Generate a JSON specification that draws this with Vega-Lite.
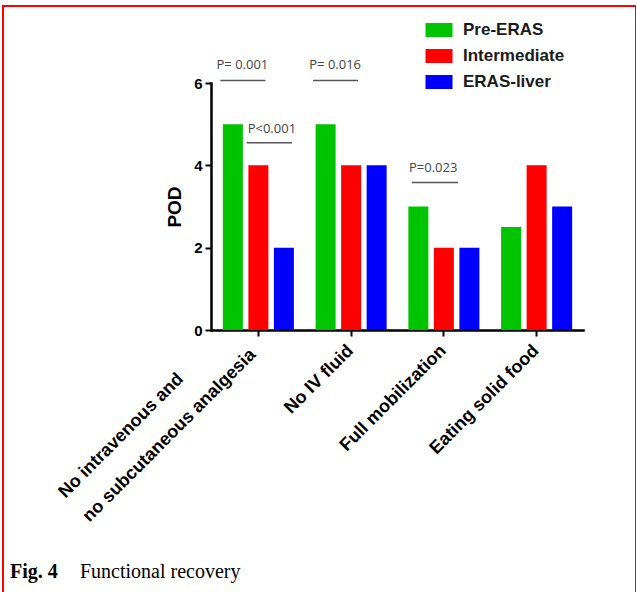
{
  "$schema": "https://vega.github.io/schema/vega-lite/v6.json",
  "width": 633,
  "height": 600,
  "autosize": {"type": "none"},
  "padding": {"left": 3, "top": 6, "right": 0, "bottom": 0},
  "background": "white",
  "config": {"view": {"stroke": "#ff0000", "strokeWidth": 2}, "font": "Liberation Sans"},
  "datasets": {
    "bars": [
      {"task": "No intravenous and no subcutaneous analgesia", "group": "Pre-ERAS", "days": 5},
      {"task": "No intravenous and no subcutaneous analgesia", "group": "Intermediate", "days": 4},
      {"task": "No intravenous and no subcutaneous analgesia", "group": "ERAS-liver", "days": 2},
      {"task": "No IV fluid", "group": "Pre-ERAS", "days": 5},
      {"task": "No IV fluid", "group": "Intermediate", "days": 4},
      {"task": "No IV fluid", "group": "ERAS-liver", "days": 4},
      {"task": "Full mobilization", "group": "Pre-ERAS", "days": 3},
      {"task": "Full mobilization", "group": "Intermediate", "days": 2},
      {"task": "Full mobilization", "group": "ERAS-liver", "days": 2},
      {"task": "Eating solid food", "group": "Pre-ERAS", "days": 2.5},
      {"task": "Eating solid food", "group": "Intermediate", "days": 4},
      {"task": "Eating solid food", "group": "ERAS-liver", "days": 3}
    ],
    "ann": [
      {"id": "a", "task": "No intravenous and no subcutaneous analgesia", "y": 6.06, "ty": 6.33, "label": "P= 0.001"},
      {"id": "b", "task": "No intravenous and no subcutaneous analgesia", "y": 4.55, "ty": 4.79, "label": "P<0.001"},
      {"id": "c", "task": "No IV fluid", "y": 6.06, "ty": 6.33, "label": "P= 0.016"},
      {"id": "d", "task": "Full mobilization", "y": 3.58, "ty": 3.85, "label": "P=0.023"}
    ],
    "caption": [
      {"part": "bold", "text": "Fig. 4"},
      {"part": "plain", "text": "Functional recovery"}
    ]
  },
  "layer": [
    {
      "data": {"name": "bars"},
      "mark": {"type": "bar"},
      "encoding": {
        "x": {
          "field": "task", "type": "nominal", "sort": null,
          "scale": {
            "domain": ["No intravenous and no subcutaneous analgesia", "No IV fluid", "Full mobilization", "Eating solid food"],
            "range": [209, 580], "paddingInner": 0.234, "paddingOuter": 0.117
          },
          "axis": {
            "title": null, "offset": -276, "grid": false,
            "domainColor": "black", "domainWidth": 2.5, "domainCap": "square",
            "tickColor": "black", "tickWidth": 2, "tickSize": 6,
            "labelAngle": -45, "labelBaseline": "bottom",
            "labelAlign": {"condition": {"test": "datum.value == 'No intravenous and no subcutaneous analgesia'", "value": "left"}, "value": "right"},
            "labelFont": "Liberation Sans", "labelFontSize": 18, "labelFontWeight": "bold", "labelColor": "black",
            "labelPadding": {"condition": {"test": "datum.value == 'No intravenous and no subcutaneous analgesia'", "value": 165}, "value": 18},
            "labelOffset": {"condition": {"test": "datum.value == 'No intravenous and no subcutaneous analgesia'", "value": -190}, "value": 6},
            "labelLineHeight": 34, "labelLimit": 500,
            "labelExpr": "datum.value == 'No intravenous and no subcutaneous analgesia' ? ['No intravenous and', 'no subcutaneous analgesia'] : datum.value"
          }
        },
        "xOffset": {
          "field": "group", "type": "nominal",
          "scale": {"domain": ["Pre-ERAS", "Intermediate", "ERAS-liver"], "paddingInner": 0.216, "paddingOuter": 0}
        },
        "y": {
          "field": "days", "type": "quantitative",
          "scale": {"domain": [0, 6], "range": [324, 77], "nice": false, "zero": true},
          "axis": {
            "title": "POD", "values": [0, 2, 4, 6], "format": "d", "grid": false, "offset": -208,
            "domainColor": "black", "domainWidth": 2.5, "domainCap": "square",
            "tickColor": "black", "tickWidth": 2, "tickSize": 6,
            "labelFont": "Liberation Sans", "labelFontSize": 15, "labelFontWeight": "bold", "labelColor": "black", "labelPadding": 3,
            "titleFont": "Liberation Sans", "titleFontSize": 19, "titleFontWeight": "bold", "titleColor": "black",
            "titleX": -37, "titleBaseline": "middle"
          }
        },
        "color": {
          "field": "group", "type": "nominal",
          "scale": {"domain": ["Pre-ERAS", "Intermediate", "ERAS-liver"], "range": ["#00c400", "#ff0000", "#0000ff"]},
          "legend": {
            "title": null, "orient": "none", "legendX": 427.5, "legendY": 15.5, "padding": 0,
            "symbolType": "M-1.93,-1H1.93V1H-1.93Z", "symbolSize": 196, "symbolStrokeWidth": 0, "symbolOpacity": 1,
            "labelFont": "Liberation Sans", "labelFontSize": 17, "labelFontWeight": "bold", "labelColor": "#1a1a1a",
            "labelOffset": 15.5, "rowPadding": 8
          }
        }
      }
    },
    {
      "data": {"name": "ann"},
      "transform": [{"filter": "datum.id == 'a' || datum.id == 'c'"}],
      "mark": {"type": "rule", "color": "#555555", "strokeWidth": 1.5},
      "encoding": {
        "x": {"field": "task", "type": "nominal", "bandPosition": -0.035},
        "x2": {"field": "task", "bandPosition": 0.6},
        "y": {"field": "y", "type": "quantitative"}
      }
    },
    {
      "data": {"name": "ann"},
      "transform": [{"filter": "datum.id == 'b'"}],
      "mark": {"type": "rule", "color": "#555555", "strokeWidth": 1.5},
      "encoding": {
        "x": {"field": "task", "type": "nominal", "bandPosition": 0.336},
        "x2": {"field": "task", "bandPosition": 0.974},
        "y": {"field": "y", "type": "quantitative"}
      }
    },
    {
      "data": {"name": "ann"},
      "transform": [{"filter": "datum.id == 'd'"}],
      "mark": {"type": "rule", "color": "#555555", "strokeWidth": 1.5},
      "encoding": {
        "x": {"field": "task", "type": "nominal", "bandPosition": 0.05},
        "x2": {"field": "task", "bandPosition": 0.7},
        "y": {"field": "y", "type": "quantitative"}
      }
    },
    {
      "data": {"name": "ann"},
      "transform": [{"filter": "datum.id == 'a' || datum.id == 'c'"}],
      "mark": {"type": "text", "font": "Open Sans", "fontSize": 13, "color": "#444444", "align": "center", "baseline": "alphabetic"},
      "encoding": {
        "x": {"field": "task", "type": "nominal", "bandPosition": 0.275},
        "y": {"field": "ty", "type": "quantitative"},
        "text": {"field": "label"}
      }
    },
    {
      "data": {"name": "ann"},
      "transform": [{"filter": "datum.id == 'b'"}],
      "mark": {"type": "text", "font": "Open Sans", "fontSize": 13, "color": "#444444", "align": "center", "baseline": "alphabetic"},
      "encoding": {
        "x": {"field": "task", "type": "nominal", "bandPosition": 0.69},
        "y": {"field": "ty", "type": "quantitative"},
        "text": {"field": "label"}
      }
    },
    {
      "data": {"name": "ann"},
      "transform": [{"filter": "datum.id == 'd'"}],
      "mark": {"type": "text", "font": "Open Sans", "fontSize": 13, "color": "#444444", "align": "center", "baseline": "alphabetic"},
      "encoding": {
        "x": {"field": "task", "type": "nominal", "bandPosition": 0.35},
        "y": {"field": "ty", "type": "quantitative"},
        "text": {"field": "label"}
      }
    },
    {
      "data": {"name": "caption"},
      "transform": [{"filter": "datum.part == 'bold'"}],
      "mark": {"type": "text", "font": "Liberation Serif", "fontSize": 20, "fontWeight": "bold", "color": "black", "align": "left", "baseline": "alphabetic", "dx": -212.85},
      "encoding": {
        "x": {"datum": "No intravenous and no subcutaneous analgesia", "type": "nominal", "bandPosition": 0},
        "y": {"datum": -6.03, "type": "quantitative"},
        "text": {"field": "text"}
      }
    },
    {
      "data": {"name": "caption"},
      "transform": [{"filter": "datum.part == 'plain'"}],
      "mark": {"type": "text", "font": "Liberation Serif", "fontSize": 20, "fontWeight": "normal", "color": "black", "align": "left", "baseline": "alphabetic", "dx": -142.85},
      "encoding": {
        "x": {"datum": "No intravenous and no subcutaneous analgesia", "type": "nominal", "bandPosition": 0},
        "y": {"datum": -6.03, "type": "quantitative"},
        "text": {"field": "text"}
      }
    }
  ]
}
